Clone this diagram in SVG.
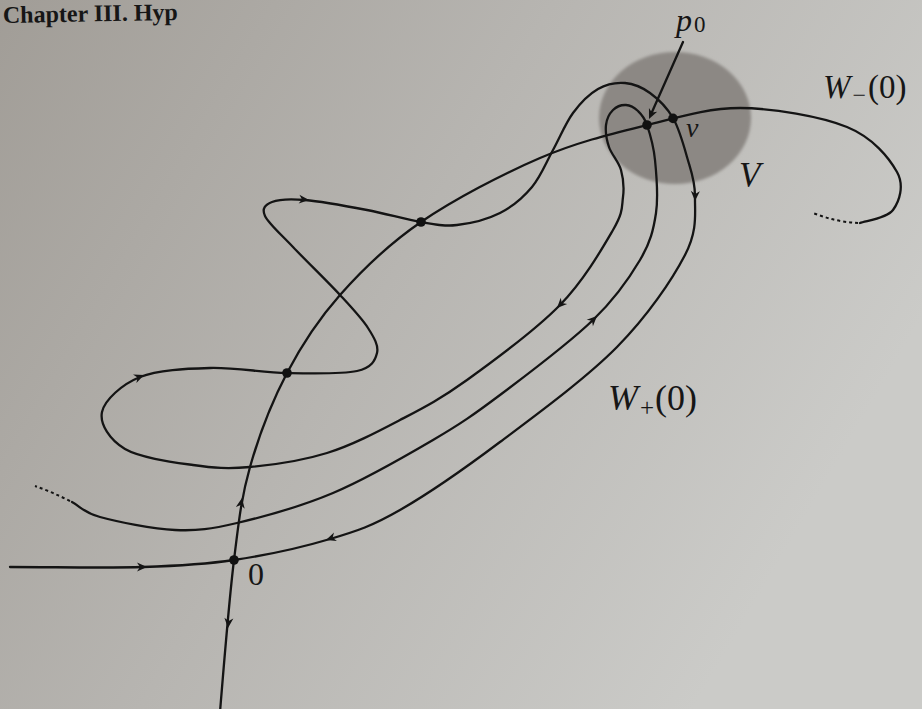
<svg xmlns="http://www.w3.org/2000/svg" width="922" height="709" viewBox="0 0 922 709">
<defs>
<linearGradient id="bg" x1="0" y1="0" x2="1" y2="0.45">
<stop offset="0" stop-color="#a19d97"/>
<stop offset="0.5" stop-color="#b7b5b1"/>
<stop offset="1" stop-color="#cbcbc8"/>
</linearGradient>
<filter id="soft" x="-10%" y="-10%" width="120%" height="120%"><feGaussianBlur stdDeviation="1.5"/></filter>
<path id="ah" d="M0,0 L-10,-4.5 L-7,0 L-10,4.5 Z"/>
<style>
.c{fill:none;stroke:#141414;stroke-width:2.3;stroke-linecap:round;stroke-linejoin:round}
.d{fill:none;stroke:#141414;stroke-width:2;stroke-dasharray:3 3}
.a{fill:#141414}
.dot{fill:#111}
.t{font-family:"Liberation Serif","Times New Roman",serif;fill:#161616}
.i{font-style:italic}
</style>
</defs>
<rect width="922" height="709" fill="url(#bg)"/>
<text class="t" x="3" y="23" font-size="24" font-weight="bold" transform="rotate(-1 0 23)">Chapter III. Hyp</text>

<g id="region-V">
<ellipse cx="675" cy="118" rx="76" ry="66" fill="#8c8884" filter="url(#soft)"/>
</g>

<g id="connectors">
<path id="W-minus" class="c" d="M220,712 C222.3,684.2 229,600.3 234,560 C239,519.7 241.2,498.2 250,467 C258.8,435.8 272,401.7 287,373 C302,344.3 317.7,320.2 340,295 C362.3,269.8 387.7,244.8 421,222 C454.3,199.2 502.3,174.2 540,158 C577.7,141.8 613.7,133.3 647,125 C680.3,116.7 706.7,108.3 740,108 C773.3,108.3 820.8,116.3 847,127 C873.2,137.7 889.3,158.2 897,172 C904.7,185.8 899.2,201.5 893,210 C886.8,218.5 865.5,220.8 860,223"/>
<path class="d" d="M858,223 Q836,222 813,213"/>
<path id="orbit" class="c" d="M10,567 C54.3,567 105.7,568.2 143,567 C180.3,565.8 202.8,564.7 234,560 C265.2,555.3 302.3,547.3 330,539 C357.7,530.7 371.7,526.2 400,510 C428.3,493.8 463.8,469.2 500,442 C536.2,414.8 586.2,378.2 617,347 C647.8,315.8 672,280 685,255 C698,230 694.7,213.3 695,197 C695.3,180.7 690.7,170.2 687,157 C683.3,143.8 679.2,128.7 673,118 C666.8,107.3 658,98.8 650,93 C642,87.2 633.7,83.7 625,83 C616.3,82.3 606.7,84 598,89 C589.3,94 580.5,102.8 573,113 C565.5,123.2 559.8,137.7 553,150 C546.2,162.3 540.8,176.5 532,187 C523.2,197.5 512.5,206.7 500,213 C487.5,219.3 470.2,223.5 457,225 C443.8,226.5 436,224.5 421,222 C406,219.5 386.3,213.7 367,210 C347.7,206.3 320.8,201.3 305,200 C289.2,198.7 278.7,199.3 272,202 C265.3,204.7 261.5,208.5 265,216 C268.5,223.5 280.5,233.8 293,247 C305.5,260.2 327.5,281.5 340,295 C352.5,308.5 361.8,318.3 368,328 C374.2,337.7 378.8,345.8 377,353 C375.2,360.2 372,367.7 357,371 C342,374.3 311.5,373.5 287,373 C262.5,372.5 234.5,367.3 210,368 C185.5,368.7 158,369.7 140,377 C122,384.3 104.5,400 102,412 C99.5,424 109.8,440.2 125,449 C140.2,457.8 172.2,462 193,465 C213.8,468 227.7,469 250,467 C272.3,465 302,460.8 327,453 C352,445.2 376.7,432.2 400,420 C423.3,407.8 440.3,399.2 467,380 C493.7,360.8 535.7,330 560,305 C584.3,280 602.5,248 613,230 C623.5,212 621.7,207 623,197 C624.3,187 623.3,178.3 621,170 C618.7,161.7 611.5,154.5 609,147 C606.5,139.5 605.3,131.2 606,125 C606.7,118.8 609.7,113.3 613,110 C616.3,106.7 621.8,104.8 626,105 C630.2,105.2 634.5,107.7 638,111 C641.5,114.3 644.2,116.8 647,125 C649.8,133.2 653.5,145.3 655,160 C656.5,174.7 658.5,196.3 656,213 C653.5,229.7 650.5,242.2 640,260 C629.5,277.8 616.3,297.5 593,320 C569.7,342.5 526.7,375 500,395 C473.3,415 460.8,423.7 433,440 C405.2,456.3 365.7,479.2 333,493 C300.3,506.8 263.3,516.8 237,523 C210.7,529.2 197.8,531 175,530 C152.2,529 117.2,521.7 100,517 C82.8,512.3 81.3,507 72,502"/>
<path class="d" d="M70,501 Q52,492 35,486"/>
<path id="p0-pointer" class="c" d="M683,42 L652,112"/>
<g id="arrowheads" class="a">
<use href="#ah" transform="translate(649,119) rotate(114)"/>
<use href="#ah" transform="translate(147,567) rotate(0)"/>
<use href="#ah" transform="translate(228,628) rotate(95)"/>
<use href="#ah" transform="translate(242,498) rotate(-80)"/>
<use href="#ah" transform="translate(326,540) rotate(161)"/>
<use href="#ah" transform="translate(695,201) rotate(92)"/>
<use href="#ah" transform="translate(557,308) rotate(134)"/>
<use href="#ah" transform="translate(597,316) rotate(-44)"/>
<use href="#ah" transform="translate(144,375) rotate(-22)"/>
<use href="#ah" transform="translate(309,200) rotate(5)"/>
</g>
</g>

<g id="node-0"><circle class="dot" cx="234" cy="560" r="4.8"/><text class="t" x="248" y="585" font-size="32">0</text></g>
<g id="node-a"><circle class="dot" cx="287" cy="373" r="4.8"/></g>
<g id="node-b"><circle class="dot" cx="421" cy="222" r="4.8"/></g>
<g id="node-p0"><circle class="dot" cx="647" cy="125" r="4.8"/><text class="t" x="676" y="31" font-size="32"><tspan class="i">p</tspan><tspan font-size="23" dx="2" dy="1">0</tspan></text></g>
<g id="node-nu"><circle class="dot" cx="673" cy="118.4" r="4.8"/><text class="t i" x="686" y="137" font-size="28">ν</text></g>
<g id="label-V"><text class="t i" x="739" y="187" font-size="35">V</text></g>
<g id="label-Wminus"><text class="t" x="823" y="98" font-size="33"><tspan class="i">W</tspan><tspan font-size="24" dx="2" dy="5">−</tspan><tspan dx="2" dy="-5">(0)</tspan></text></g>
<g id="label-Wplus"><text class="t" x="608" y="410" font-size="36"><tspan class="i">W</tspan><tspan font-size="25" dx="2" dy="6">+</tspan><tspan dx="1" dy="-6">(0)</tspan></text></g>
</svg>
